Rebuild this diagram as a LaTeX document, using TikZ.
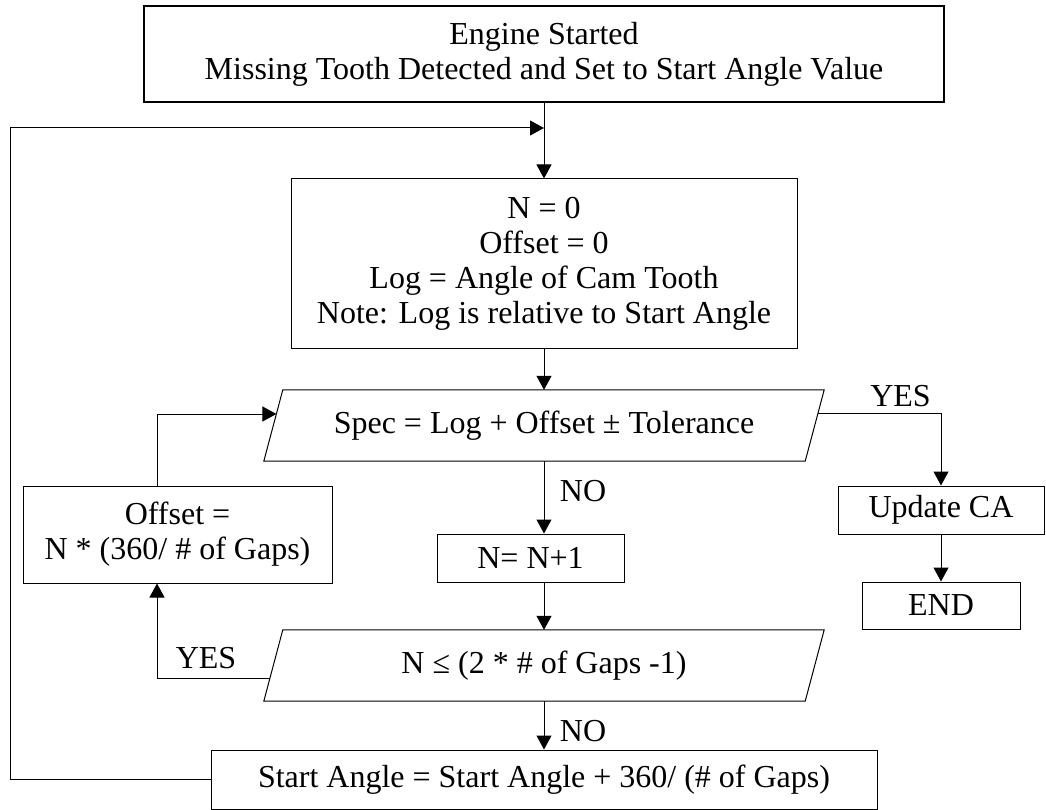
\documentclass[tikz,border=0pt]{standalone}
\usepackage{fontspec}
\setmainfont{Liberation Serif}
\usepackage{tikz}
\usetikzlibrary{positioning,arrows.meta}
\newcommand\flowfont{\fontsize{32}{35}\selectfont}

\begin{document}
\begin{tikzpicture}[x=1pt,y=-1pt,
  box/.style={draw,line width=1pt,inner sep=0pt,align=center,font=\flowfont},
  para/.style={inner sep=0pt,align=center,font=\flowfont,minimum width=541pt,minimum height=71pt},
  slant/.style={line width=1pt,line join=miter},
  lbl/.style={font=\flowfont,inner sep=0pt},
  arr/.style={-{Triangle[length=14pt,width=15pt]},line width=1pt}]
  \useasboundingbox (0,0) rectangle (1046,810);
  % boxes
  \node[box,line width=1.8pt,minimum width=800pt,minimum height=96pt] (engine) at (544,54)
    {Engine Started\\Missing Tooth Detected and Set to Start Angle Value};
  \node[box,minimum width=506pt,minimum height=169pt] (init) at (544,263.5)
    {N = 0\\Offset = 0\\Log = Angle of Cam Tooth\\Note: Log is relative to Start Angle};
  \node[para] (spec) at (544,425.5) {Spec = Log + Offset ± Tolerance};
  \node[box,minimum width=187pt,minimum height=48pt] (incr) at (530.5,558) {N= N+1};
  \node[para] (cond) at (544,665.5) {N ≤ (2 * \# of Gaps -1)};
  \node[box,minimum width=666pt,minimum height=59pt] (start) at (544,779.5)
    {Start Angle = Start Angle + 360/ (\# of Gaps)};
  \node[box,minimum width=309pt,minimum height=97pt] (offset) at (177.5,534.5)
    {Offset =\\N * (360/ \# of Gaps)};
  \node[box,minimum width=206pt,minimum height=48pt] (update) at (941,510) {Update CA};
  \node[box,minimum width=158pt,minimum height=47pt] (finish) at (941,605.5) {END};
  % parallelogram outlines
  \foreach \p in {spec,cond}
    \draw[slant] ([xshift=9.5pt]\p.north west) -- ([xshift=9.5pt]\p.north east)
      -- ([xshift=-9.5pt]\p.south east) -- ([xshift=-9.5pt]\p.south west) -- cycle;
  % labels
  \node[lbl] (yesR) at (900.5,396) {YES};
  \node[lbl] (noA) at (583,491) {NO};
  \node[lbl] (yesL) at (206,658) {YES};
  \node[lbl] (noB) at (583,731) {NO};
  % connectors
  \coordinate (merge) at (544,128);
  \draw[arr] (engine.south) -- (init.north);
  \draw[arr] (start.west) -- ++(-200,0) |- (merge);
  \draw[arr] (init.south) -- (spec.north);
  \draw[arr] (spec.south) -- (spec.south |- incr.north);
  \draw[arr] (spec.south |- incr.south) -- (cond.north);
  \draw[arr] (cond.south) -- (start.north);
  \draw[arr] ([xshift=-3.3pt,yshift=-12.5pt]cond.west) -| ([xshift=-20.5pt]offset.south);
  \draw[arr] ([xshift=-20.5pt]offset.north) |- ([xshift=3.1pt,yshift=11.5pt]spec.west);
  \draw[arr] ([xshift=3.3pt,yshift=12.5pt]spec.east) -| (update.north);
  \draw[arr] (update.south) -- (finish.north);
\end{tikzpicture}
\end{document}
